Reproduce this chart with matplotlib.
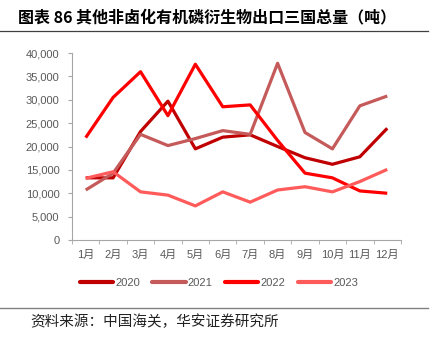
import matplotlib.pyplot as plt
import numpy as np
from matplotlib.lines import Line2D
from matplotlib.ticker import FuncFormatter, FixedLocator

plt.rcParams['font.family'] = ['Liberation Sans', 'Noto Sans CJK SC']

months = ['1月', '2月', '3月', '4月', '5月', '6月', '7月', '8月', '9月', '10月', '11月', '12月']
y2020 = [13300, 13300, 23200, 29700, 19500, 22000, 22500, 20000, 17600, 16200, 17800, 23900]
y2021 = [10700, 14300, 22600, 20200, 21700, 23400, 22600, 37800, 23000, 19500, 28700, 30800]
y2022 = [21900, 30500, 36000, 26600, 37600, 28500, 28900, 21300, 14300, 13300, 10500, 10000]
y2023 = [13200, 14600, 10300, 9600, 7300, 10300, 8100, 10700, 11400, 10300, 12500, 15100]
years = ['2020', '2021', '2022', '2023']
colors = ['#C00000', '#C55A5A', '#FF0000', '#FF5B5B']

fig = plt.figure(figsize=(4.46, 3.42), dpi=100)
ax = fig.add_axes([0.1614, 0.2982, 0.7376, 0.5468])

x = np.arange(len(months))
for yr, vals, c in zip(years, [y2020, y2021, y2022, y2023], colors):
    ax.plot(x, vals, color=c, lw=2.3, label=yr, solid_capstyle='butt')

ax.set_xlim(-0.5, 11.5)
ax.set_ylim(0, 40000)
ax.set_yticks(np.arange(0, 40001, 5000))
ax.yaxis.set_major_formatter(FuncFormatter(lambda v, p: f'{int(v):,}'))
ax.set_xticks(x)
ax.set_xticklabels(months)
ax.xaxis.set_minor_locator(FixedLocator(np.arange(-0.5, 12, 1)))
ax.tick_params(axis='x', which='major', length=0, pad=7, labelsize=8, colors='#595959')
ax.tick_params(axis='x', which='minor', length=3, color='#A6A6A6')
ax.tick_params(axis='y', length=3, color='#A6A6A6', labelsize=8, labelcolor='#595959', pad=6)
for s in ['top', 'right']:
    ax.spines[s].set_visible(False)
for s in ['left', 'bottom']:
    ax.spines[s].set_color('#A6A6A6')

# legend sits under the plot, slightly right of centre
handles = [Line2D([], [], color=c, lw=3, solid_capstyle='round') for c in colors]
fig.legend(handles, years, loc='center', bbox_to_anchor=(0.491, 0.1725), ncol=4, frameon=False,
           fontsize=8, handlelength=3.0, handletextpad=0.2, columnspacing=1.1,
           labelcolor='#595959')

fig.text(0.04, 0.948, '图表 86 其他非卤化有机磷衍生物出口三国总量（吨）', fontsize=11.5,
         fontweight='bold', family=['Noto Sans CJK SC'], va='center')
fig.add_artist(Line2D([0, 0.96], [0.909, 0.909], color='#404040', lw=0.9))
fig.add_artist(Line2D([0, 0.96], [0.099, 0.099], color='#808080', lw=1.0))
fig.text(0.068, 0.058, '资料来源：中国海关，华安证券研究所', fontsize=10.5,
         family=['Noto Sans CJK SC'], va='center', color='#222222')

fig.savefig('out.png', dpi=100)
